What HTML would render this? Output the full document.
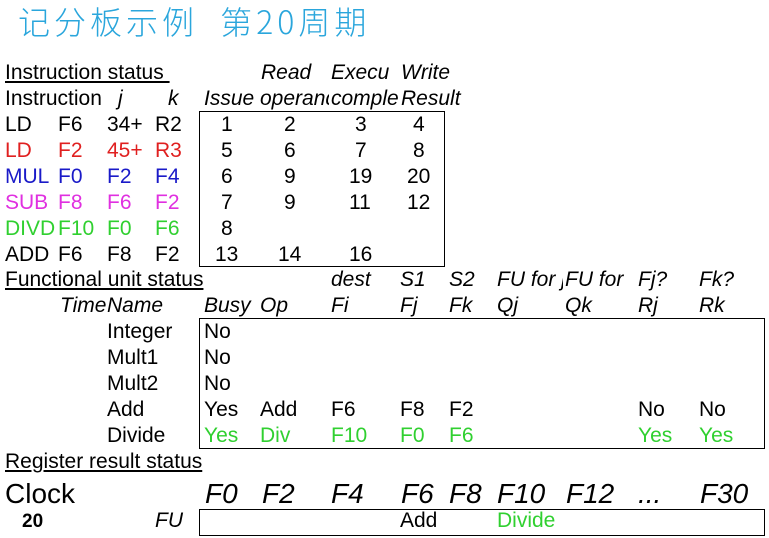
<!DOCTYPE html>
<html><head><meta charset="utf-8"><style>
body{margin:0;width:769px;height:538px;background:#fff;position:relative;overflow:hidden;font-family:"Liberation Sans",sans-serif;}
.t{position:absolute;font-size:21px;line-height:24px;white-space:nowrap;color:#000;margin-top:-1px}
.i{font-style:italic}
.u{text-decoration:underline}
.box{position:absolute;border:1.5px solid #000;box-sizing:border-box}
.r{color:#e02020}.b{color:#1a1ac8}.m{color:#e030e0}.g{color:#30d030}
.c{overflow:hidden}
.k{font-size:28px;line-height:30px}
</style></head><body>
<div class="t" style="left:18px;top:3px;font-size:32px;line-height:38px;color:#2aa6dc;font-family:'Noto Sans CJK SC',sans-serif;letter-spacing:4px;font-weight:300">记分板示例&nbsp; 第20周期</div>

<div class="t u" style="left:5px;top:62px">Instruction status&nbsp;</div>
<div class="t i" style="left:261px;top:62px">Read</div>
<div class="t i" style="left:331px;top:62px">Execu</div>
<div class="t i" style="left:401px;top:62px">Write</div>
<div class="t c" style="left:5px;top:88px;width:98px">Instruction</div>
<div class="t i" style="left:118px;top:88px">j</div>
<div class="t i" style="left:168px;top:88px">k</div>
<div class="t i c" style="left:204px;top:88px;width:55px">Issue</div>
<div class="t i c" style="left:260px;top:88px;width:69px">operand</div>
<div class="t i c" style="left:331px;top:88px;width:68px">complete</div>
<div class="t i" style="left:401px;top:88px">Result</div>

<div class="box" style="left:199px;top:111px;width:246px;height:156px"></div>

<div class="t" style="left:5px;top:114px">LD</div><div class="t" style="left:58px;top:114px">F6</div><div class="t" style="left:107px;top:114px">34+</div><div class="t" style="left:155px;top:114px">R2</div>
<div class="t r" style="left:5px;top:140px">LD</div><div class="t r" style="left:58px;top:140px">F2</div><div class="t r" style="left:107px;top:140px">45+</div><div class="t r" style="left:155px;top:140px">R3</div>
<div class="t b" style="left:5px;top:166px">MUL</div><div class="t b" style="left:58px;top:166px">F0</div><div class="t b" style="left:107px;top:166px">F2</div><div class="t b" style="left:155px;top:166px">F4</div>
<div class="t m" style="left:5px;top:192px">SUB</div><div class="t m" style="left:58px;top:192px">F8</div><div class="t m" style="left:107px;top:192px">F6</div><div class="t m" style="left:155px;top:192px">F2</div>
<div class="t g c" style="left:5px;top:218px;width:51px">DIVD</div><div class="t g" style="left:58px;top:218px">F10</div><div class="t g" style="left:107px;top:218px">F0</div><div class="t g" style="left:155px;top:218px">F6</div>
<div class="t" style="left:5px;top:244px">ADD</div><div class="t" style="left:58px;top:244px">F6</div><div class="t" style="left:107px;top:244px">F8</div><div class="t" style="left:155px;top:244px">F2</div>

<div class="t" style="left:221px;top:114px">1</div><div class="t" style="left:284px;top:114px">2</div><div class="t" style="left:355px;top:114px">3</div><div class="t" style="left:413px;top:114px">4</div>
<div class="t" style="left:221px;top:140px">5</div><div class="t" style="left:284px;top:140px">6</div><div class="t" style="left:355px;top:140px">7</div><div class="t" style="left:413px;top:140px">8</div>
<div class="t" style="left:221px;top:166px">6</div><div class="t" style="left:284px;top:166px">9</div><div class="t" style="left:349px;top:166px">19</div><div class="t" style="left:407px;top:166px">20</div>
<div class="t" style="left:221px;top:192px">7</div><div class="t" style="left:284px;top:192px">9</div><div class="t" style="left:349px;top:192px">11</div><div class="t" style="left:407px;top:192px">12</div>
<div class="t" style="left:221px;top:218px">8</div>
<div class="t" style="left:215px;top:244px">13</div><div class="t" style="left:278px;top:244px">14</div><div class="t" style="left:349px;top:244px">16</div>

<div class="t u" style="left:5px;top:269px">Functional unit status</div>
<div class="t i" style="left:331px;top:269px">dest</div>
<div class="t i" style="left:400px;top:269px">S1</div>
<div class="t i" style="left:449px;top:269px">S2</div>
<div class="t i c" style="left:497px;top:269px;width:66px">FU for j</div>
<div class="t i" style="left:565px;top:269px">FU for</div>
<div class="t i" style="left:638px;top:269px">Fj?</div>
<div class="t i" style="left:699px;top:269px">Fk?</div>

<div class="t i c" style="left:60px;top:295px;width:46px">Time</div>
<div class="t i" style="left:107px;top:295px">Name</div>
<div class="t i" style="left:204px;top:295px">Busy</div>
<div class="t i" style="left:260px;top:295px">Op</div>
<div class="t i" style="left:331px;top:295px">Fi</div>
<div class="t i" style="left:400px;top:295px">Fj</div>
<div class="t i" style="left:449px;top:295px">Fk</div>
<div class="t i" style="left:497px;top:295px">Qj</div>
<div class="t i" style="left:565px;top:295px">Qk</div>
<div class="t i" style="left:638px;top:295px">Rj</div>
<div class="t i" style="left:699px;top:295px">Rk</div>

<div class="box" style="left:199px;top:318px;width:566px;height:131px"></div>
<div class="t" style="left:107px;top:321px">Integer</div><div class="t" style="left:204px;top:321px">No</div>
<div class="t" style="left:107px;top:347px">Mult1</div><div class="t" style="left:204px;top:347px">No</div>
<div class="t" style="left:107px;top:373px">Mult2</div><div class="t" style="left:204px;top:373px">No</div>
<div class="t" style="left:107px;top:399px">Add</div><div class="t" style="left:204px;top:399px">Yes</div><div class="t" style="left:260px;top:399px">Add</div><div class="t" style="left:331px;top:399px">F6</div><div class="t" style="left:400px;top:399px">F8</div><div class="t" style="left:449px;top:399px">F2</div><div class="t" style="left:638px;top:399px">No</div><div class="t" style="left:699px;top:399px">No</div>
<div class="t" style="left:107px;top:425px">Divide</div><div class="t g" style="left:204px;top:425px">Yes</div><div class="t g" style="left:260px;top:425px">Div</div><div class="t g" style="left:331px;top:425px">F10</div><div class="t g" style="left:400px;top:425px">F0</div><div class="t g" style="left:449px;top:425px">F6</div><div class="t g" style="left:638px;top:425px">Yes</div><div class="t g" style="left:699px;top:425px">Yes</div>

<div class="t u" style="left:5px;top:451px">Register result status</div>
<div class="t k" style="left:5px;top:480px">Clock</div>
<div class="t i k" style="left:205px;top:480px">F0</div>
<div class="t i k" style="left:262px;top:480px">F2</div>
<div class="t i k" style="left:331px;top:480px">F4</div>
<div class="t i k" style="left:401px;top:480px">F6</div>
<div class="t i k" style="left:449px;top:480px">F8</div>
<div class="t i k" style="left:497px;top:480px">F10</div>
<div class="t i k" style="left:566px;top:480px">F12</div>
<div class="t i k" style="left:638px;top:480px">...</div>
<div class="t i k" style="left:700px;top:480px">F30</div>
<div class="t" style="left:22px;top:511px;font-weight:bold;font-size:19px">20</div>
<div class="t i" style="left:155px;top:510px">FU</div>
<div class="box" style="left:199px;top:509px;width:566px;height:27px"></div>
<div class="t" style="left:400px;top:510px">Add</div>
<div class="t g" style="left:497px;top:510px">Divide</div>
</body></html>
